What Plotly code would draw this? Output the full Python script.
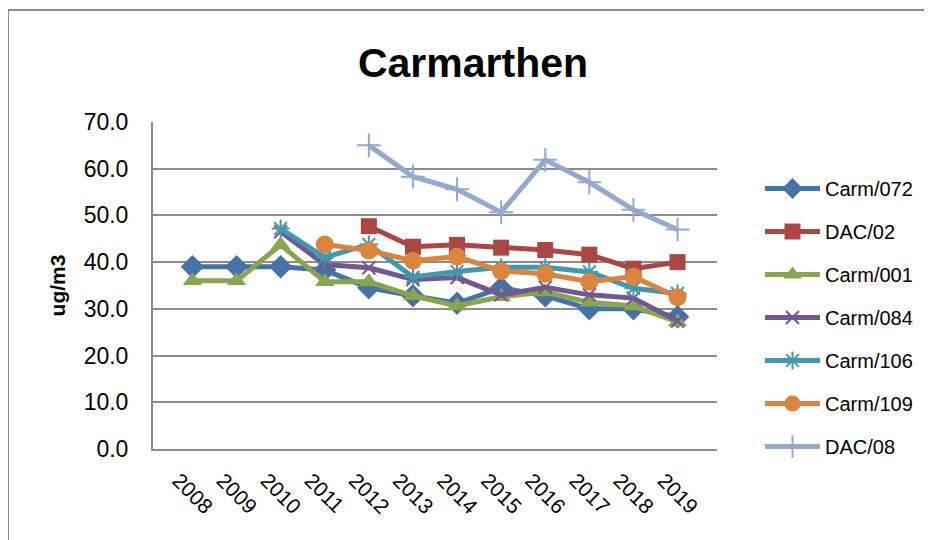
import plotly.graph_objects as go

years = ["2008", "2009", "2010", "2011", "2012", "2013", "2014", "2015", "2016", "2017", "2018", "2019"]

carm_072 = [39.0, 39.0, 39.0, 38.3, 34.5, 32.8, 31.2, 34.5, 32.8, 30.0, 30.0, 28.3]
dac_02 = [None, None, None, None, 47.7, 43.3, 43.7, 43.1, 42.6, 41.6, 38.6, 40.0]
carm_001 = [36.0, 36.0, 43.7, 35.8, 35.8, 32.8, 30.6, 32.6, 33.6, 31.4, 30.6, 27.2]
carm_084 = [None, None, 46.5, 39.5, 38.8, 36.3, 36.7, 33.0, 34.6, 33.0, 32.3, 27.4]
carm_106 = [None, None, 47.2, 41.0, 43.8, 36.8, 38.0, 38.9, 38.9, 37.9, 34.4, 33.3]
carm_109 = [None, None, None, 43.8, 42.5, 40.3, 41.2, 38.1, 37.5, 35.8, 36.9, 32.5]
dac_08 = [None, None, None, None, 65.0, 58.3, 55.6, 50.7, 61.9, 57.1, 51.2, 47.0]

series = [
    ("Carm/072", carm_072, "#4573A7", "diamond", 18),
    ("DAC/02", dac_02, "#AA4643", "square", 16),
    ("Carm/001", carm_001, "#89A54E", "triangle-up", 17),
    ("Carm/084", carm_084, "#71588F", "x-thin", 13),
    ("Carm/106", carm_106, "#4198AF", "asterisk", 15),
    ("Carm/109", carm_109, "#DB843D", "circle", 18),
    ("DAC/08", dac_08, "#93A9CF", "cross-thin", 17),
]

fig = go.Figure()
for name, vals, color, sym, size in series:
    thin = sym in ("x-thin", "asterisk", "cross-thin")
    fig.add_trace(go.Scatter(
        x=years, y=vals, name=name, mode="lines+markers", legendgroup=name,
        line=dict(color=color, width=5),
        marker=dict(symbol=sym, size=size, color=color,
                    line=dict(color=color, width=2 if thin else 0)),
        connectgaps=False,
    ))

# page body has an 8px margin, so positions below are shifted by -8px
L, R, T, B = 145, 709, 114, 441
W, H = R - L, B - T

fig.update_layout(
    width=932, height=540,
    paper_bgcolor="white", plot_bgcolor="white",
    margin=dict(l=L, r=932 - R, t=T, b=540 - B),
    font=dict(family="Liberation Sans, Arial, sans-serif", size=19, color="black"),
    title=dict(text="<b>Carmarthen</b>", x=465 / 932, xanchor="center",
               y=1 - 55 / 540, yanchor="middle",
               font=dict(size=41, family="Liberation Sans, Arial, sans-serif")),
    legend=dict(x=(752 - L) / W, xanchor="left", y=(B - 161) / H, yanchor="top",
                font=dict(size=20), tracegroupgap=14, itemwidth=55,
                bgcolor="rgba(0,0,0,0)"),
    showlegend=True,
)
fig.update_xaxes(type="category", tickangle=45, showgrid=False,
                 showline=True, linecolor="#8c8c8c", linewidth=2,
                 ticks="outside", ticklen=9, tickcolor="white", tickfont=dict(size=21),
                 ticklabelshift=-14)
fig.update_yaxes(range=[0, 70], dtick=10, tickformat=".1f",
                 showgrid=True, gridcolor="#8c8c8c", gridwidth=2,
                 showline=True, linecolor="#8c8c8c", linewidth=2,
                 zeroline=False, ticks="outside", ticklen=18, tickcolor="white",
                 title=dict(text="<b>ug/m3</b>", font=dict(size=21), standoff=12),
                 tickfont=dict(size=23))

# outer chart frame (left and top edges)
fx = (0 - L) / W
fy = (B - 2) / H
fig.add_shape(type="line", xref="paper", yref="paper",
              x0=fx, x1=fx, y0=(B - 560) / H, y1=fy,
              line=dict(color="#8c8c8c", width=2))
fig.add_shape(type="line", xref="paper", yref="paper",
              x0=fx, x1=(960 - L) / W, y0=fy, y1=fy,
              line=dict(color="#8c8c8c", width=2))

fig.write_html("out.html")
